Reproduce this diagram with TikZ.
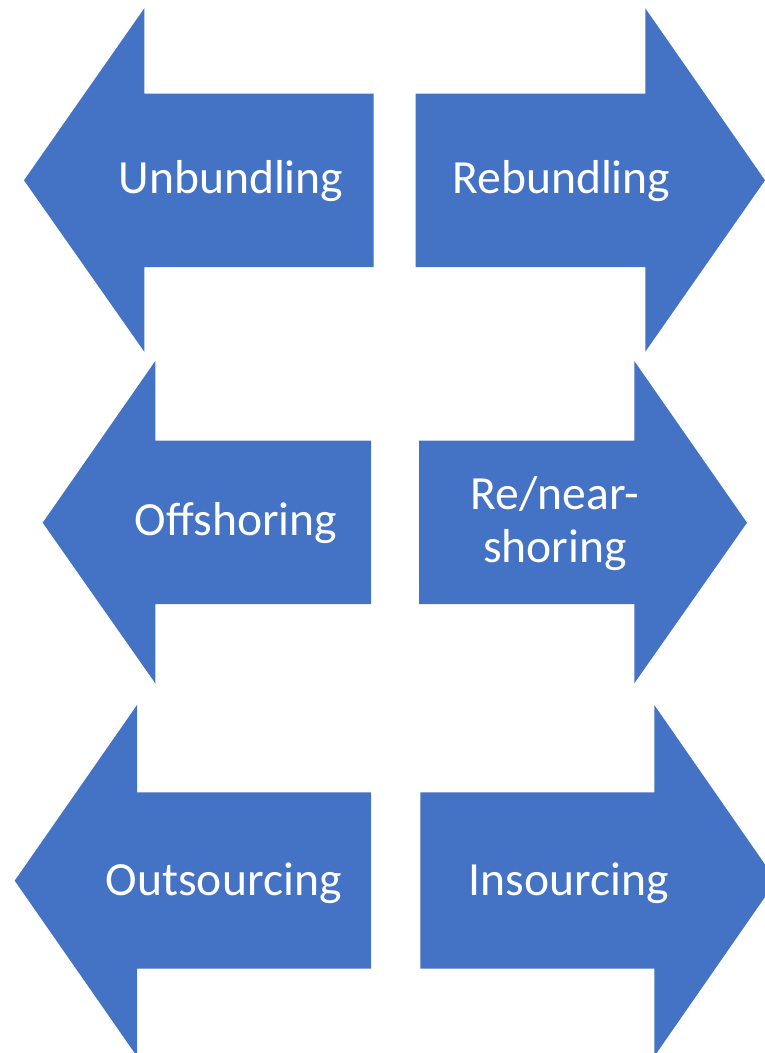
\documentclass[tikz,border=0pt]{standalone}
\usepackage{fontspec}
\setmainfont{Carlito}
\definecolor{arrowblue}{RGB}{68,114,196}
\begin{document}
\begin{tikzpicture}[x=1pt,y=-1pt,
  blockarrow/.style={fill=arrowblue,draw=none},
  label/.style={text=white,font=\fontsize{47.6}{53}\selectfont,anchor=base,inner sep=0pt,align=center}]
\useasboundingbox (0,0) rectangle (765,1053);
\clip (0,0) rectangle (765,1053);
% row 1
\fill[blockarrow] (24,180.3) -- (144.3,8.3) -- (144.3,93.7) -- (373.7,93.7) -- (373.7,267) -- (144.3,267) -- (144.3,351.7) -- cycle;
\fill[blockarrow] (765,180.3) -- (645.3,8.3) -- (645.3,93.7) -- (415.7,93.7) -- (415.7,267) -- (645.3,267) -- (645.3,351.7) -- cycle;
% row 2
\fill[blockarrow] (42.7,522.7) -- (155.3,361) -- (155.3,440.7) -- (371,440.7) -- (371,604) -- (155.3,604) -- (155.3,683.3) -- cycle;
\fill[blockarrow] (747,522.7) -- (634.3,361) -- (634.3,440.7) -- (419,440.7) -- (419,604) -- (634.3,604) -- (634.3,683.3) -- cycle;
% row 3
\fill[blockarrow] (14.7,880.7) -- (137,705) -- (137,792.3) -- (371,792.3) -- (371,968.7) -- (137,968.7) -- (137,1056.4) -- cycle;
\fill[blockarrow] (776.3,880.7) -- (654.3,705) -- (654.3,792.3) -- (420.3,792.3) -- (420.3,968.7) -- (654.3,968.7) -- (654.3,1056.4) -- cycle;
% labels
\node[label] (unb) at (231,193.7) {Unbundling};
\node[label] (reb) at (561.3,193.7) {Rebundling};
\node[label] (off) at (236,535.7) {Offshoring};
\node[label] (ren1) at (554.7,509.3) {Re/near-};
\node[label] (ren2) at (555,562.3) {shoring};
\node[label] (out) at (223.7,895) {Outsourcing};
\node[label] (ins) at (568.7,895) {Insourcing};
\end{tikzpicture}
\end{document}
